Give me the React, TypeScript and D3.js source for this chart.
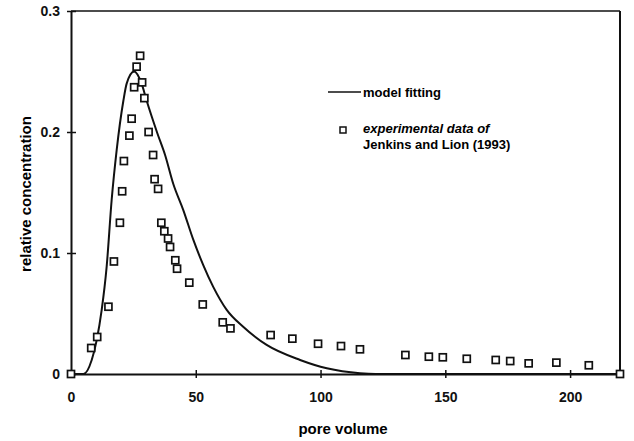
import * as d3 from 'd3';
import React, { useRef, useEffect } from 'react';

// experimental data (Jenkins and Lion, 1993)
const expPoreVolume = [0, 8.1, 10.5, 15.0, 17.2, 19.6, 20.5, 21.2, 23.4, 24.3, 25.3, 26.3, 27.7, 28.5, 29.4, 31.1, 32.9, 33.5, 34.9, 36.2, 37.4, 38.9, 39.7, 41.8, 42.5, 47.4, 52.8, 60.8, 63.9, 80.0, 88.7, 99.0, 108.2, 115.8, 134, 143.4, 149, 158.6, 170.2, 176, 183.4, 194.5, 207.5, 220];
const expConc = [0, 0.0215, 0.0306, 0.0556, 0.093, 0.125, 0.151, 0.176, 0.197, 0.211, 0.237, 0.254, 0.263, 0.241, 0.228, 0.200, 0.181, 0.161, 0.153, 0.125, 0.118, 0.112, 0.105, 0.094, 0.087, 0.0755, 0.0575, 0.0427, 0.0377, 0.0322, 0.0292, 0.025, 0.0231, 0.0204, 0.0157, 0.0143, 0.0138, 0.0126, 0.0116, 0.0107, 0.0088, 0.0094, 0.0072, 0];

// model fitting curve
const modelPoreVolume = [0, 5, 8.3, 10.3, 12.3, 14.3, 16.3, 18.3, 21, 22.3, 25.3, 28.3, 30.3, 34.6, 37.7, 41, 45, 49, 53, 57, 62.4, 69, 78.4, 91.8, 102.5, 115.8, 122, 220];
const modelConc = [0, 0, 0.0116, 0.028, 0.053, 0.089, 0.144, 0.185, 0.226, 0.240, 0.250, 0.240, 0.226, 0.199, 0.181, 0.157, 0.1355, 0.111, 0.09, 0.072, 0.053, 0.039, 0.024, 0.0116, 0.0047, 0.0006, 0, 0];

const xTicks = [0, 50, 100, 150, 200];
const yTicks = [0, 0.1, 0.2, 0.3];
const yTickLabels = ['0', '0.1', '0.2', '0.3'];

const W = 634;
const H = 441;

export default function App() {
	const ref = useRef<SVGSVGElement>(null);

	useEffect(() => {
		const svg = d3.select(ref.current);
		svg.selectAll('*').remove();

		const font = "'Liberation Sans', Arial, sans-serif";
		const x = d3.scaleLinear().domain([0, 220]).range([71, 620]);
		const y = d3.scaleLinear().domain([0, 0.3]).range([374, 11]);

		svg.append('rect').attr('width', W).attr('height', H).attr('fill', 'white');

		// frame
		svg.append('line').attr('x1', x(0)).attr('x2', x(220)).attr('y1', y(0.3)).attr('y2', y(0.3))
			.attr('stroke', '#111').attr('stroke-width', 1.5);
		svg.append('line').attr('x1', x(220)).attr('x2', x(220)).attr('y1', y(0.3)).attr('y2', y(0))
			.attr('stroke', '#111').attr('stroke-width', 2);

		// model curve
		const line = d3.line<number>()
			.x((d, i) => x(modelPoreVolume[i]))
			.y((d) => y(d))
			.curve(d3.curveMonotoneX);
		svg.append('path')
			.attr('d', line(modelConc))
			.attr('fill', 'none')
			.attr('stroke', '#111')
			.attr('stroke-width', 2);

		// axes
		const gx = svg.append('g')
			.attr('transform', `translate(0, ${y(0)})`)
			.call(d3.axisBottom(x).tickValues(xTicks).tickSizeInner(4).tickSizeOuter(0).tickPadding(14));
		gx.select('.domain').attr('stroke-width', 1.8).attr('stroke', '#111');
		gx.selectAll('.tick line').attr('y1', -4).attr('stroke-width', 1.5).attr('stroke', '#111');
		gx.selectAll('.tick text').style('font-family', font).style('font-size', '14px').style('font-weight', 'bold').attr('fill', '#111');

		const gy = svg.append('g')
			.attr('transform', `translate(${x(0)}, 0)`)
			.call(d3.axisLeft(y).tickValues(yTicks).tickFormat((d, i) => yTickLabels[i]).tickSizeInner(4).tickSizeOuter(0).tickPadding(7));
		gy.select('.domain').attr('stroke-width', 2).attr('stroke', '#111');
		gy.selectAll('.tick line').attr('x1', 5).attr('stroke-width', 1.5).attr('stroke', '#111');
		gy.selectAll('.tick text').style('font-family', font).style('font-size', '14px').style('font-weight', 'bold').attr('fill', '#111');

		// data points
		svg.append('g')
			.selectAll('rect')
			.data(expConc)
			.join('rect')
			.attr('x', (d, i) => x(expPoreVolume[i]) - 3.5)
			.attr('y', (d) => y(d) - 3.5)
			.attr('width', 7)
			.attr('height', 7)
			.attr('fill', 'white')
			.attr('stroke', '#111')
			.attr('stroke-width', 1.7);

		// axis titles
		svg.append('text')
			.attr('x', 343)
			.attr('y', 434)
			.attr('text-anchor', 'middle')
			.style('font-family', font).style('font-size', '15px').style('font-weight', 'bold')
			.text('pore volume');
		svg.append('text')
			.attr('transform', 'translate(31, 194) rotate(-90)')
			.attr('text-anchor', 'middle')
			.style('font-family', font).style('font-size', '15px').style('font-weight', 'bold')
			.text('relative concentration');

		// legend
		svg.append('line').attr('x1', 328).attr('x2', 361).attr('y1', 92).attr('y2', 92)
			.attr('stroke', '#111').attr('stroke-width', 1.5);
		svg.append('text').attr('x', 363).attr('y', 97)
			.style('font-family', font).style('font-size', '13px').style('font-weight', 'bold')
			.text('model fitting');
		svg.append('rect').attr('x', 340).attr('y', 127).attr('width', 6).attr('height', 6)
			.attr('fill', 'white').attr('stroke', '#111').attr('stroke-width', 1.5);
		svg.append('text').attr('x', 363).attr('y', 133)
			.style('font-family', font).style('font-size', '13px').style('font-weight', 'bold').style('font-style', 'italic')
			.text('experimental data of');
		svg.append('text').attr('x', 363).attr('y', 149)
			.style('font-family', font).style('font-size', '13px').style('font-weight', 'bold')
			.text('Jenkins and Lion (1993)');
	}, []);

	return (
		<svg ref={ref} width={W} height={H} style={{ position: 'absolute', left: 0, top: 0 }} />
	);
}
